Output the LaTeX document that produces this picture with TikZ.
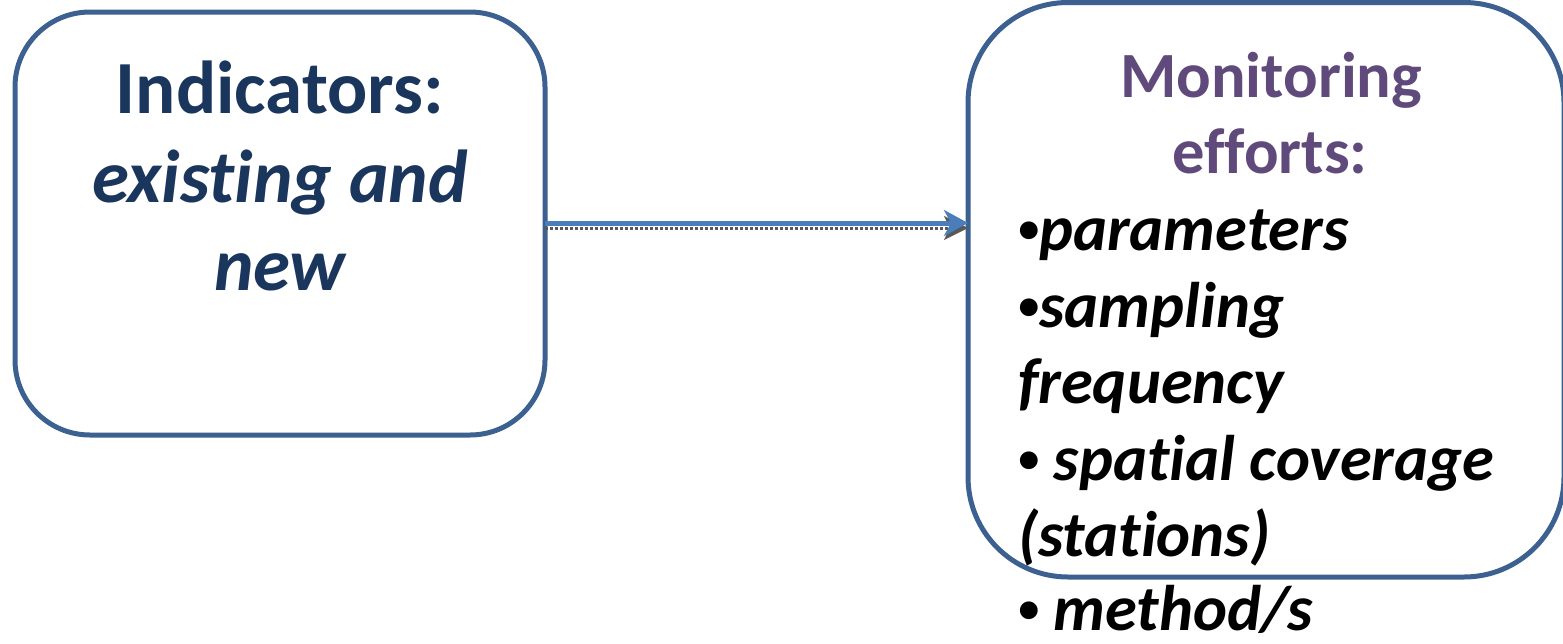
\documentclass[tikz,border=0pt]{standalone}
\usepackage{fontspec}
\setmainfont{Carlito}[Ligatures={NoCommon,NoRare}]
\usetikzlibrary{arrows.meta}
\definecolor{boxline}{HTML}{3C6090}
\definecolor{arrowblue}{HTML}{4A7EBB}
\definecolor{navy}{HTML}{1B365D}
\definecolor{purp}{HTML}{604A7B}
\newcommand{\bul}{\raisebox{0.12em}{\scalebox{0.65}{•}}}
\tikzset{
  box/.style={draw=boxline,line width=5pt,fill=white},
  lefttxt/.style={anchor=base,inner sep=0pt,text=navy,font=\fontsize{75}{88}\selectfont\bfseries},
  titletxt/.style={anchor=base,inner sep=0pt,text=purp,font=\fontsize{64.5}{76}\selectfont\bfseries},
  itemtxt/.style={anchor=base west,inner sep=0pt,text=black,font=\fontsize{64.5}{76}\selectfont\bfseries\itshape},
}
\begin{document}
\begin{tikzpicture}[x=1pt,y=-1pt]
\useasboundingbox (0,0) rectangle (1563,643);
% boxes
\draw[box,rounded corners=75pt] (15,12) rectangle (545,435);
\coordinate (lbox) at (545,223);
\draw[box,rounded corners=100pt] (968,2.5) rectangle (1564,577);
\coordinate (rbox) at (968,223);
% arrow shadow and arrow
\draw[gray!70!black,line width=3pt,dotted,-{Stealth[length=24pt,width=24pt,inset=6pt]}] ([yshift=-5pt]lbox) -- ([yshift=-5pt]rbox);
\draw[arrowblue,line width=5pt,-{Stealth[length=24pt,width=26pt,inset=7pt]}] (lbox) -- (rbox);
% left text
\node[lefttxt] (l1) at (280,113) {Indicators:};
\node[lefttxt,font=\fontsize{75}{88}\selectfont\bfseries\itshape] (l2) at (280,202) {existing and};
\node[lefttxt,font=\fontsize{75}{88}\selectfont\bfseries\itshape] (l3) at (280,290) {new};
% right text
\node[titletxt] (t1) at (1271,97) {Monitoring};
\node[titletxt] (t2) at (1270,173) {efforts:};
\node[itemtxt] (i1) at (1018,250) {\bul parameters};
\node[itemtxt] (i2) at (1018,327) {\bul sampling};
\node[itemtxt] (i3) at (1018,403) {frequency};
\node[itemtxt] (i4) at (1018,480) {\bul{} spatial coverage};
\node[itemtxt] (i5) at (1018,556) {(stations)};
\node[itemtxt] (i6) at (1018,630) {\bul{} method/s};
\end{tikzpicture}
\end{document}
